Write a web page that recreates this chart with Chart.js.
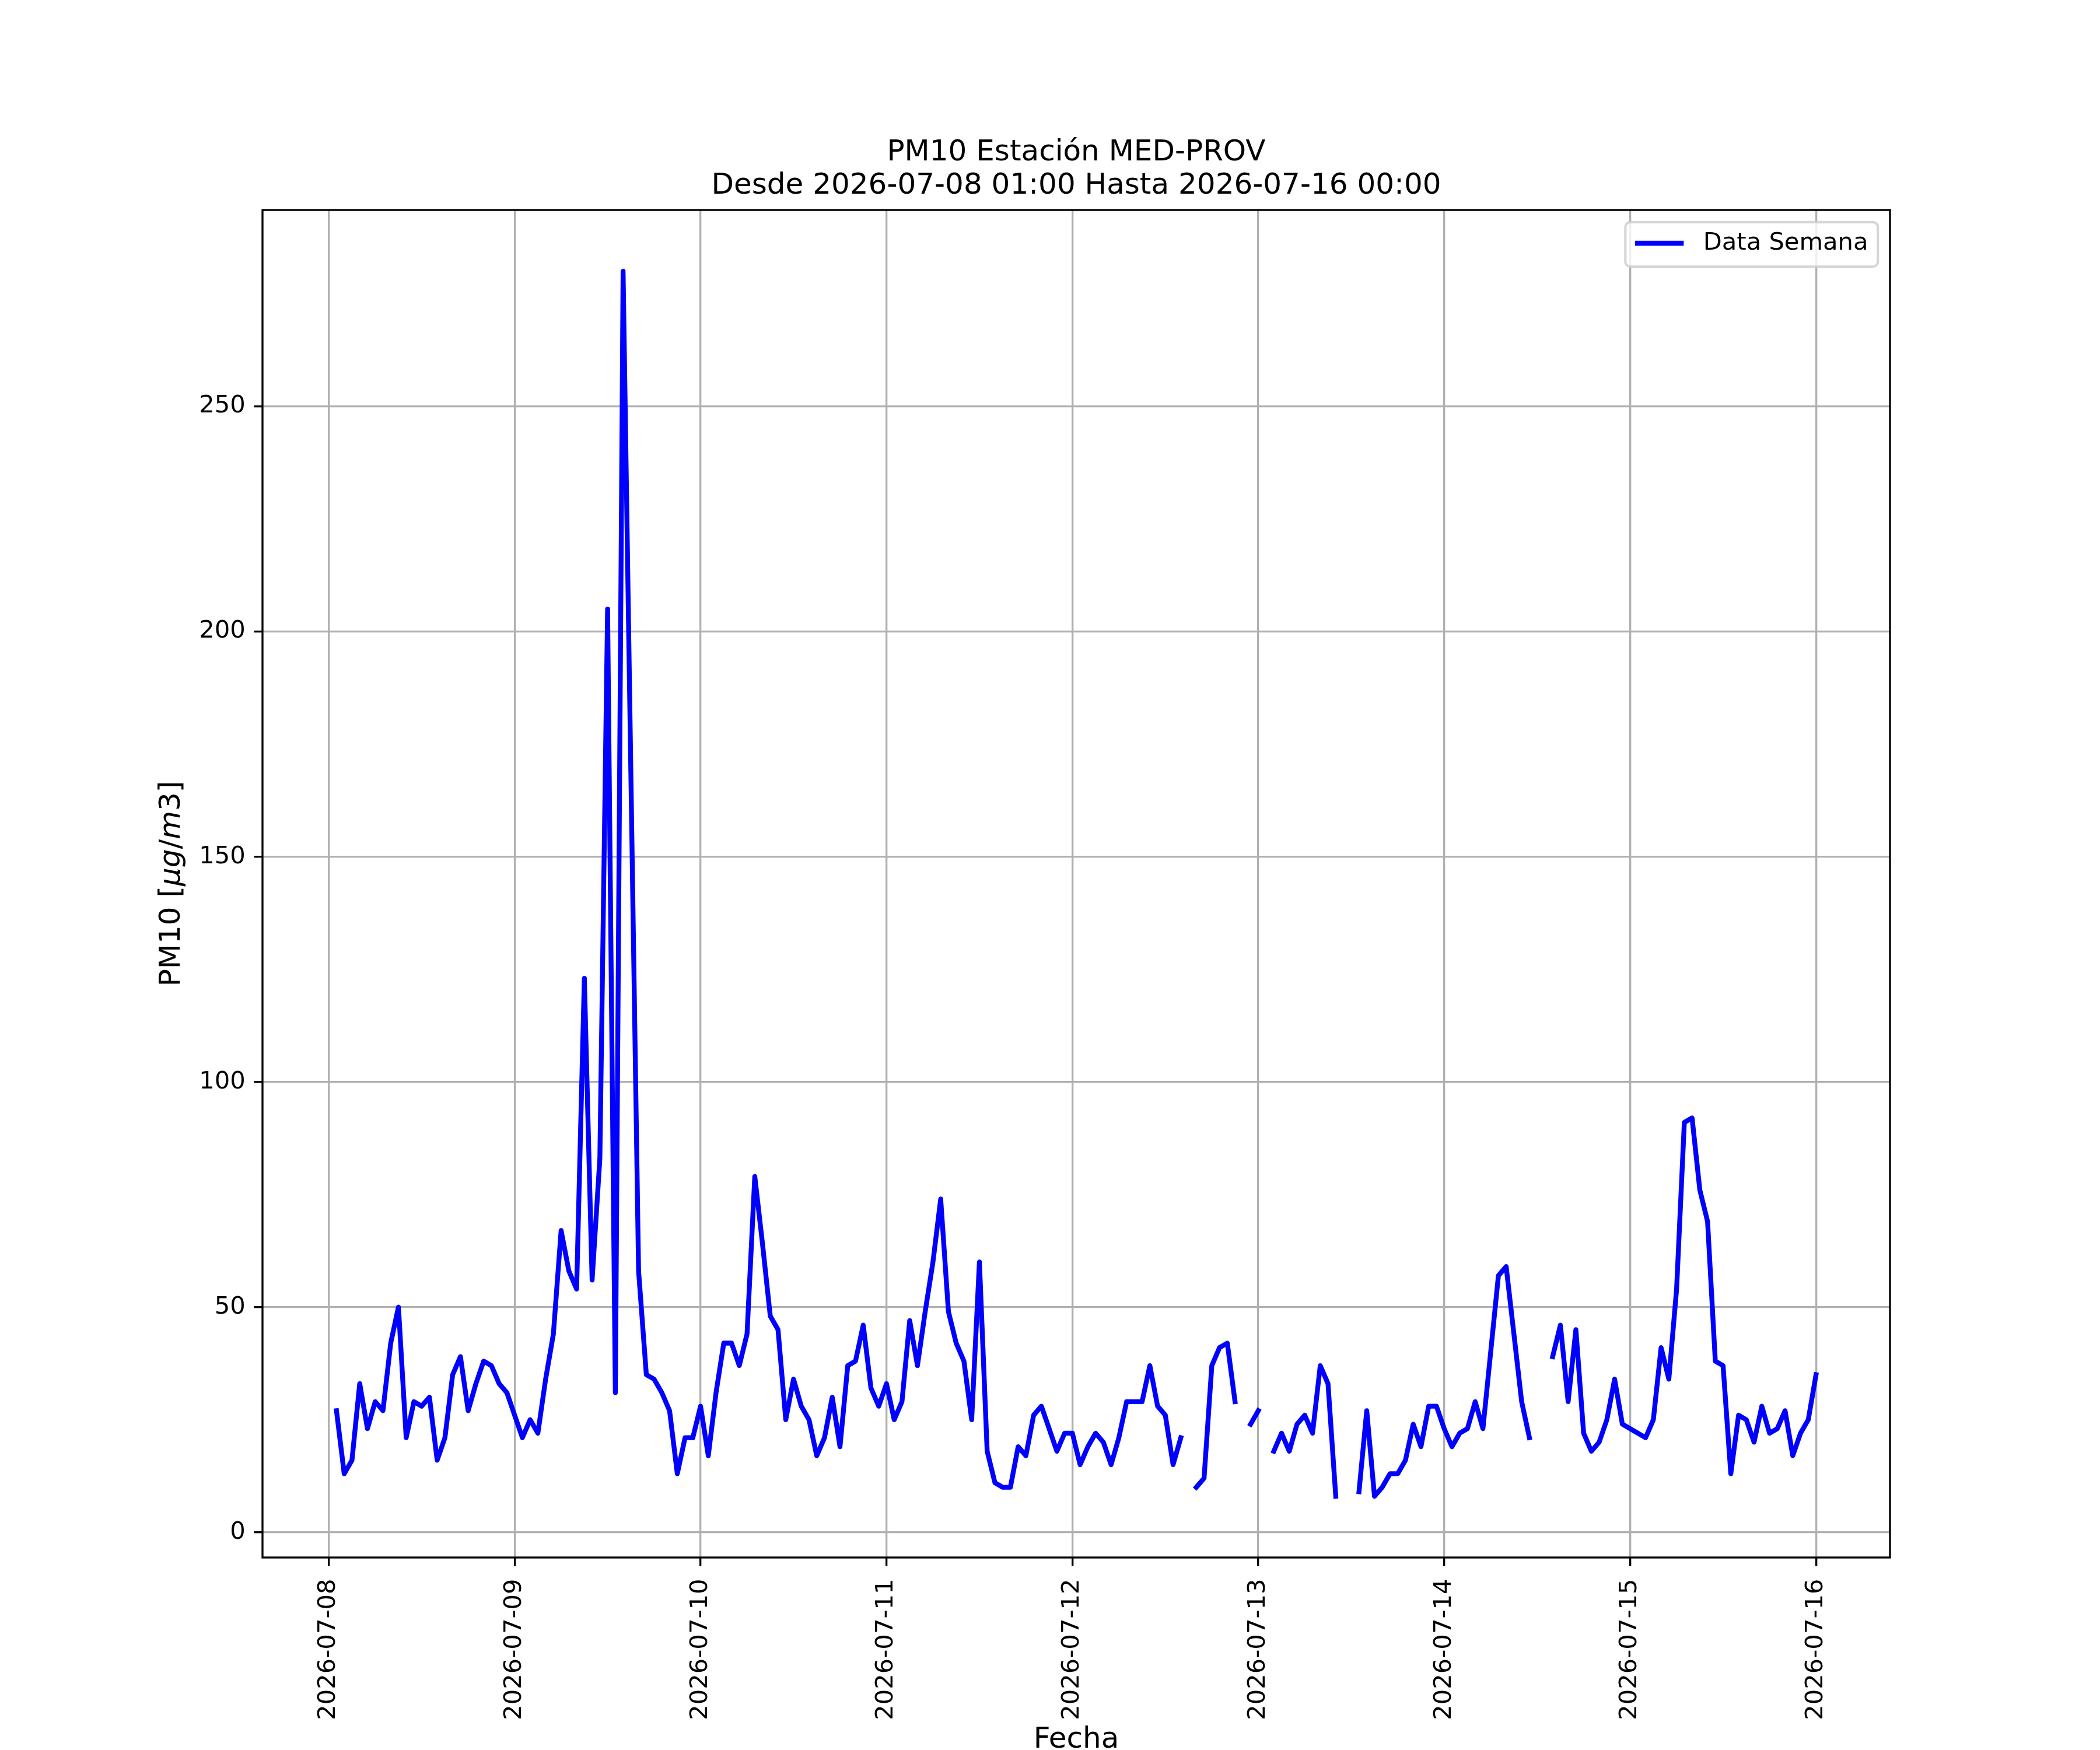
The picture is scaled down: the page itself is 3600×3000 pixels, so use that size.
<!DOCTYPE html>
<html>
<head>
<meta charset="utf-8">
<script src="https://cdn.jsdelivr.net/npm/chart.js@4.4.1/dist/chart.umd.min.js"></script>
<style>
html,body{margin:0;padding:0;background:#ffffff;}
canvas{display:block;}
</style>
</head>
<body>
<canvas id="chart" width="3600" height="3000" style="width:3600px;height:3000px"></canvas>
<script>
// ---------- data ----------
const titleLines = ['PM10 Estación MED-PROV', 'Desde 2026-07-08 01:00 Hasta 2026-07-16 00:00'];
const seriesLabel = 'Data Semana';
const xAxisLabel = 'Fecha';
// [text, italic]
const yAxisLabelParts = [['PM10 [', false], ['μg', true], ['/', false], ['m', true], ['3', false], [']', false]];
const dayTickLabels = ['2026-07-08', '2026-07-09', '2026-07-10', '2026-07-11', '2026-07-12', '2026-07-13', '2026-07-14', '2026-07-15', '2026-07-16'];
const yTickValues = [0, 50, 100, 150, 200, 250];
const hoursPerDay = 24;
const firstHour = 1; // first sample: 2026-07-08 01:00 (hours after 2026-07-08 00:00)
// hourly PM10 values, 2026-07-08 01:00 .. 2026-07-16 00:00 (null = missing)
const pm10 = [
  27, 13, 16, 33, 23, 29, 27, 42, 50, 21, 29, 28, 30, 16, 21, 35, 39, 27, 33, 38, 37, 33, 31, 26,
  21, 25, 22, 34, 44, 67, 58, 54, 123, 56, 83, 205, 31, 280, 169, 58, 35, 34, 31, 27, 13, 21, 21, 28,
  17, 31, 42, 42, 37, 44, 79, 64, 48, 45, 25, 34, 28, 25, 17, 21, 30, 19, 37, 38, 46, 32, 28, 33,
  25, 29, 47, 37, 49, 60, 74, 49, 42, 38, 25, 60, 18, 11, 10, 10, 19, 17, 26, 28, 23, 18, 22, 22,
  15, 19, 22, 20, 15, 21, 29, 29, 29, 37, 28, 26, 15, 21, null, 10, 12, 37, 41, 42, 29, null, 24, 27,
  null, 18, 22, 18, 24, 26, 22, 37, 33, 8, null, null, 9, 27, 8, 10, 13, 13, 16, 24, 19, 28, 28, 23,
  19, 22, 23, 29, 23, 40, 57, 59, 44, 29, 21, null, null, 39, 46, 29, 45, 22, 18, 20, 25, 34, 24, 23,
  22, 21, 25, 41, 34, 54, 91, 92, 76, 69, 38, 37, 13, 26, 25, 20, 28, 22, 23, 27, 17, 22, 25, 35
];

// ---------- derived ----------
const points = pm10.map((v, i) => ({ x: firstHour + i, y: v }));
const xs = points.map(p => p.x);
const ysValid = pm10.filter(v => v !== null);
const xMinD = Math.min(...xs), xMaxD = Math.max(...xs);
const yMinD = Math.min(...ysValid), yMaxD = Math.max(...ysValid);
const xMargin = 0.05 * (xMaxD - xMinD);
const yMargin = 0.05 * (yMaxD - yMinD);

// ---------- style ----------
const DPI = 300;
const pt = v => v * DPI / 72;
const FONT = '"DejaVu Sans", "Liberation Sans", sans-serif';
const tickFont = pt(10);
const labelFont = pt(12);

const frameAndLabels = {
  id: 'frameAndLabels',
  afterDatasetsDraw(chart) {
    const { ctx, chartArea: a } = chart;
    ctx.save();
    ctx.strokeStyle = '#000000';
    ctx.lineWidth = pt(0.8);
    ctx.lineJoin = 'miter';
    ctx.strokeRect(a.left, a.top, a.right - a.left, a.bottom - a.top);
    ctx.restore();
  },
  afterDraw(chart) {
    const { ctx, chartArea: a } = chart;
    ctx.save();
    // x label
    ctx.fillStyle = '#000000';
    ctx.font = `${labelFont}px ${FONT}`;
    ctx.textAlign = 'center';
    ctx.textBaseline = 'alphabetic';
    ctx.fillText(xAxisLabel, (a.left + a.right) / 2, 2996);
    // y label (mixed upright / italic)
    const widths = yAxisLabelParts.map(([t, it]) => {
      ctx.font = `${it ? 'italic ' : ''}${labelFont}px ${FONT}`;
      return ctx.measureText(t).width;
    });
    const total = widths.reduce((s, w) => s + w, 0);
    ctx.translate(a.left - 155, (a.top + a.bottom) / 2);
    ctx.rotate(-Math.PI / 2);
    ctx.textAlign = 'left';
    ctx.textBaseline = 'middle';
    let xp = -total / 2;
    yAxisLabelParts.forEach(([t, it], i) => {
      ctx.font = `${it ? 'italic ' : ''}${labelFont}px ${FONT}`;
      ctx.fillText(t, xp, 0);
      xp += widths[i];
    });
    ctx.restore();

    // legend (upper right, inside axes)
    const ds = chart.data.datasets[0];
    ctx.save();
    const fs = tickFont;
    ctx.font = `${fs}px ${FONT}`;
    const tw = ctx.measureText(ds.label).width;
    const pad = 0.4 * fs, handleLen = 2.0 * fs, handlePad = 0.8 * fs;
    const boxW = pad + handleLen + handlePad + tw + pad;
    const boxH = 2 * pad + 1.03 * fs;
    const bx = a.right - 0.5 * fs - boxW;
    const by = a.top + 0.5 * fs;
    ctx.beginPath();
    ctx.roundRect(bx, by, boxW, boxH, 0.2 * fs);
    ctx.fillStyle = 'rgba(255,255,255,0.8)';
    ctx.fill();
    ctx.strokeStyle = 'rgba(204,204,204,0.8)';
    ctx.lineWidth = pt(1.0);
    ctx.stroke();
    const cy = by + boxH / 2 - 2;
    ctx.beginPath();
    ctx.moveTo(bx + pad, cy);
    ctx.lineTo(bx + pad + handleLen, cy);
    ctx.strokeStyle = ds.borderColor;
    ctx.lineWidth = ds.borderWidth;
    ctx.lineCap = 'butt';
    ctx.stroke();
    ctx.fillStyle = '#000000';
    ctx.textAlign = 'left';
    ctx.textBaseline = 'middle';
    ctx.fillText(ds.label, bx + pad + handleLen + handlePad, cy);
    ctx.restore();
  }
};

const gridCommon = {
  color: '#b0b0b0',
  lineWidth: pt(0.8),
  drawTicks: true,
  tickLength: pt(3.5),
  tickColor: '#000000',
  tickWidth: pt(0.8)
};

new Chart(document.getElementById('chart'), {
  type: 'line',
  data: {
    datasets: [{
      label: seriesLabel,
      data: points,
      borderColor: '#0000ff',
      backgroundColor: '#0000ff',
      borderWidth: pt(2),
      pointRadius: 0,
      pointHoverRadius: 0,
      tension: 0,
      spanGaps: false,
      fill: false,
      borderJoinStyle: 'round',
      borderCapStyle: 'square'
    }]
  },
  options: {
    responsive: false,
    animation: false,
    devicePixelRatio: 1,
    events: [],
    layout: { padding: { left: 0, right: 360, top: 0, bottom: 0 } },
    plugins: {
      legend: { display: false },
      tooltip: { enabled: false },
      title: {
        display: true,
        text: titleLines,
        fullSize: false,
        color: '#000000',
        font: { family: FONT, size: labelFont, weight: 'normal', lineHeight: 1.14 },
        padding: { top: 233.5, bottom: 12.5 }
      }
    },
    scales: {
      x: {
        type: 'linear',
        min: xMinD - xMargin,
        max: xMaxD + xMargin,
        afterBuildTicks: scale => { scale.ticks = dayTickLabels.map((_, i) => ({ value: i * hoursPerDay })); },
        afterFit: scale => { scale.height = 330; },
        ticks: {
          autoSkip: false,
          minRotation: 90,
          maxRotation: 90,
          padding: 22,
          color: '#000000',
          font: { family: FONT, size: tickFont },
          callback: (value, index) => dayTickLabels[index]
        },
        grid: gridCommon,
        border: { display: false }
      },
      y: {
        type: 'linear',
        min: yMinD - yMargin,
        max: yMaxD + yMargin,
        afterBuildTicks: scale => { scale.ticks = yTickValues.map(v => ({ value: v })); },
        afterFit: scale => { scale.width = 450; },
        ticks: {
          autoSkip: false,
          padding: pt(3.5),
          color: '#000000',
          font: { family: FONT, size: tickFont },
          callback: (value) => String(value)
        },
        grid: gridCommon,
        border: { display: false }
      }
    }
  },
  plugins: [frameAndLabels]
});
</script>
</body>
</html>
